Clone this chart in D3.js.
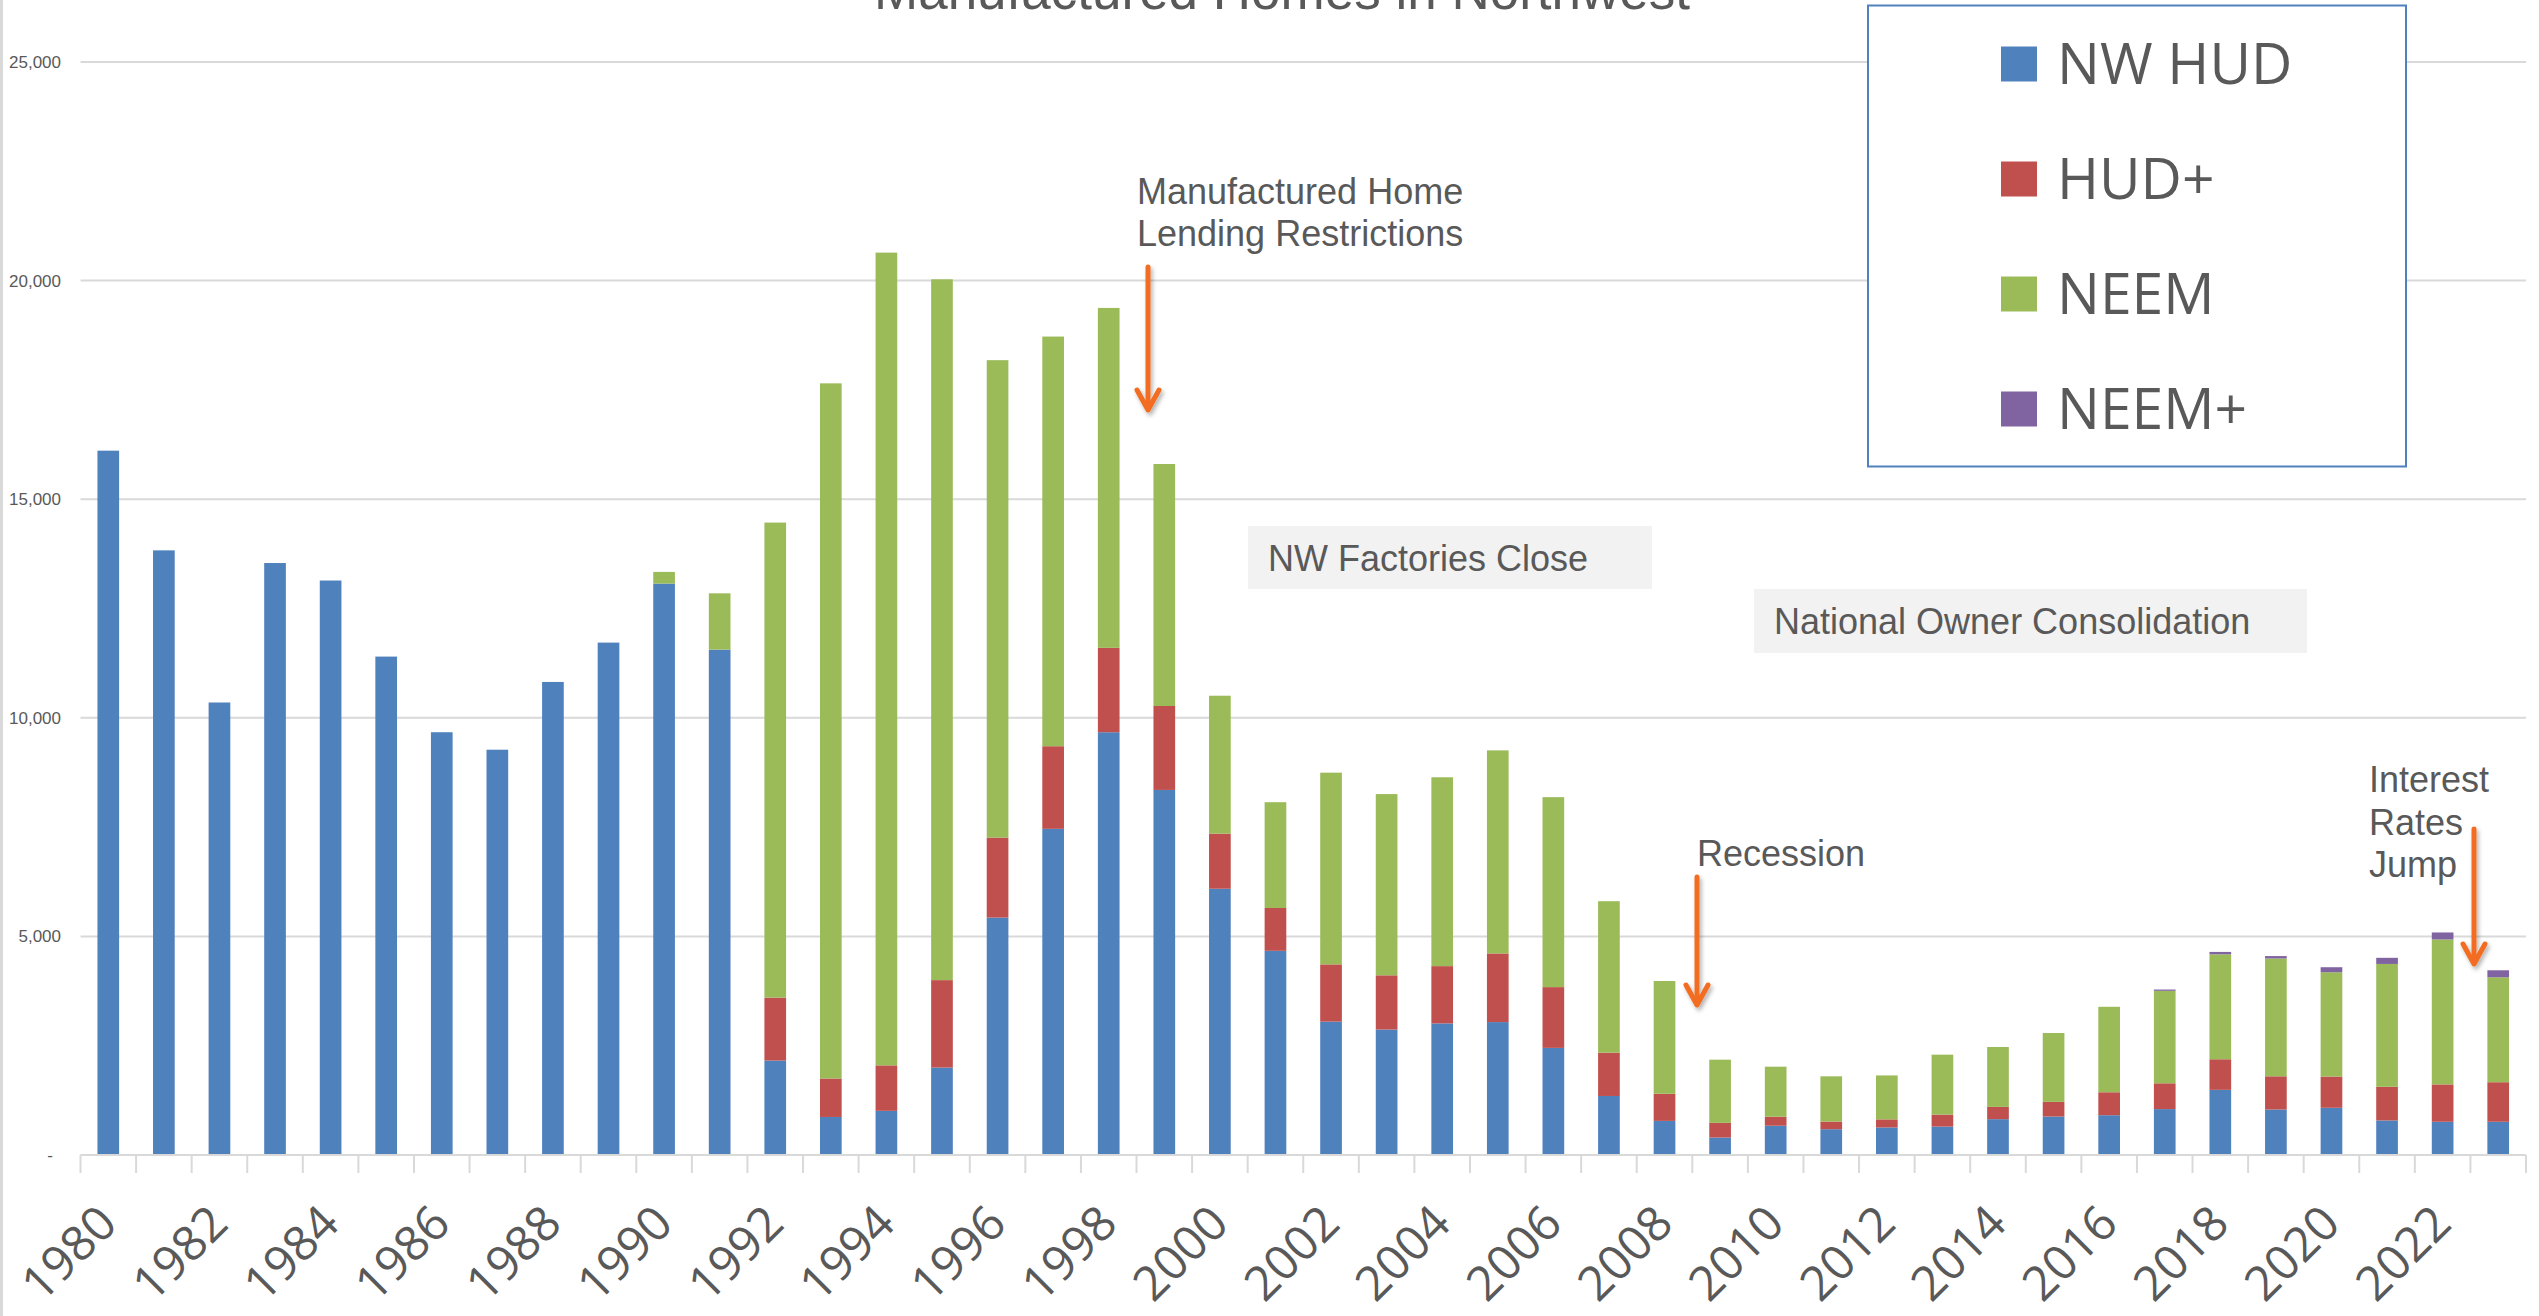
<!DOCTYPE html>
<html>
<head>
<meta charset="utf-8">
<script src="https://cdn.jsdelivr.net/npm/d3@7"></script>
<style>
  body { margin: 0; background: #fff; }
  svg { display: block; }
</style>
</head>
<body>
<svg width="2539" height="1316"></svg>
<script>
// Chart data: one value per year and series (segment values, not cumulative)
const years = d3.range(1980, 2024);
const seriesNames = ["NW HUD", "HUD+", "NEEM", "NEEM+"];

const nwHud = [16110, 13830, 10350, 13540, 13140, 11400, 9670, 9270, 10820, 11720,
    13070, 11560, 2160, 870, 1010, 2000, 5430, 7460, 9670, 8350,
    6090, 4670, 3050, 2870, 3010, 3040, 2450, 1350, 780, 400,
    670, 590, 630, 650, 820, 880, 910, 1050, 1490, 1040,
    1080, 790, 760, 760];
const hudPlus = [0, 0, 0, 0, 0, 0, 0, 0, 0, 0,
    0, 0, 1440, 880, 1040, 2000, 1830, 1890, 1930, 1920,
    1260, 980, 1310, 1240, 1310, 1570, 1390, 990, 620, 335,
    205, 175, 185, 275, 280, 335, 525, 590, 700, 760,
    715, 770, 855, 905];
const neem = [0, 0, 0, 0, 0, 0, 0, 0, 0, 0,
    267, 1287, 10865, 15900, 18590, 16030, 10920, 9370, 7775, 5535,
    3155, 2420, 4385, 4145, 4320, 4645, 4345, 3465, 2580, 1445,
    1145, 1035, 1005, 1370, 1370, 1575, 1955, 2115, 2400, 2695,
    2385, 2810, 3315, 2400];
const neemPlus = [0, 0, 0, 0, 0, 0, 0, 0, 0, 0,
    0, 0, 0, 0, 0, 0, 0, 0, 0, 0,
    0, 0, 0, 0, 0, 0, 0, 0, 0, 0,
    0, 0, 0, 0, 0, 0, 0, 30, 55, 55,
    115, 140, 160, 160];

const yTicks = [0, 5000, 10000, 15000, 20000, 25000];
const xLabelYears = years.filter(y => y % 2 === 0);

const colors = ["#4F81BD", "#C0504D", "#9BBB59", "#8064A2"];

// Build rows for d3.stack
const rows = years.map((yr, i) => ({
    year: yr,
    "NW HUD": nwHud[i],
    "HUD+": hudPlus[i],
    "NEEM": neem[i],
    "NEEM+": neemPlus[i]
}));

const svg = d3.select("svg");
const textGray = "#595959";
const gridGray = "#D9D9D9";

// Scales
const x = d3.scaleBand()
    .domain(years)
    .range([80.5, 2526])
    .paddingInner(0.61)
    .paddingOuter(0.305);

const y = d3.scaleLinear()
    .domain([0, 25000])
    .range([1155, 62]);

const color = d3.scaleOrdinal().domain(seriesNames).range(colors);

// Drop shadow for the arrows
const defs = svg.append("defs");
const shadow = defs.append("filter").attr("id", "shadow")
    .attr("x", "-50%").attr("y", "-20%").attr("width", "200%").attr("height", "140%");
shadow.append("feDropShadow")
    .attr("dx", 2).attr("dy", 3).attr("stdDeviation", 2)
    .attr("flood-color", "#000").attr("flood-opacity", 0.3);

// Left border of the chart area
svg.append("line")
    .attr("x1", 1.5).attr("x2", 1.5)
    .attr("y1", 0).attr("y2", 1316)
    .attr("stroke", gridGray).attr("stroke-width", 3);

// Title (mostly cut off at the top, as in the original)
svg.append("text")
    .attr("x", 1282).attr("y", 9)
    .attr("text-anchor", "middle")
    .attr("font-family", "Liberation Sans, Arial, sans-serif")
    .attr("font-size", 53)
    .attr("fill", textGray)
    .text("Manufactured Homes in Northwest");

// Gridlines
svg.append("g")
    .selectAll("line")
    .data(yTicks.filter(d => d > 0))
    .join("line")
    .attr("x1", 80.5).attr("x2", 2526)
    .attr("y1", d => y(d)).attr("y2", d => y(d))
    .attr("stroke", gridGray).attr("stroke-width", 2);

// Y axis labels
const yAxis = d3.axisLeft(y)
    .tickValues(yTicks)
    .tickSize(0)
    .tickPadding(0)
    .tickFormat(d => d === 0 ? "-" : d3.format(",")(d));

svg.append("g")
    .attr("transform", "translate(61,0)")
    .call(yAxis)
    .call(g => g.select(".domain").remove())
    .call(g => g.selectAll("text")
        .attr("font-family", "Liberation Sans, Arial, sans-serif")
        .attr("font-size", 17)
        .attr("fill", textGray)
        .attr("dx", d => d === 0 ? -8 : 0));

// Stacked bars
const stacked = d3.stack().keys(seriesNames)(rows);

svg.append("g")
    .selectAll("g")
    .data(stacked)
    .join("g")
    .attr("fill", d => color(d.key))
    .selectAll("rect")
    .data(d => d.filter(s => s[1] - s[0] > 0))
    .join("rect")
    .attr("x", d => x(d.data.year))
    .attr("width", x.bandwidth())
    .attr("y", d => y(d[1]))
    .attr("height", d => y(d[0]) - y(d[1]));

// X axis baseline and category-boundary ticks
const step = x.step();
const firstEdge = x(years[0]) + x.bandwidth() / 2 - step / 2;
const edges = d3.range(years.length + 1).map(i => firstEdge + i * step);

svg.append("line")
    .attr("x1", 80.5).attr("x2", 2526)
    .attr("y1", y(0)).attr("y2", y(0))
    .attr("stroke", gridGray).attr("stroke-width", 2);

svg.append("g")
    .selectAll("line")
    .data(edges)
    .join("line")
    .attr("x1", d => d).attr("x2", d => d)
    .attr("y1", y(0)).attr("y2", y(0) + 18)
    .attr("stroke", gridGray).attr("stroke-width", 2);

// X labels, every other year, rotated
svg.append("g")
    .selectAll("text")
    .data(xLabelYears)
    .join("text")
    .attr("transform", d => `translate(${x(d) + x.bandwidth() / 2 + 11},1226) rotate(-45)`)
    .attr("text-anchor", "end")
    .attr("font-family", "Open Sans, sans-serif")
    .attr("font-size", 48)
    .attr("fill", textGray)
    .text(d => d);

// Legend
const legend = svg.append("g");
legend.append("rect")
    .attr("x", 1868).attr("y", 5.5)
    .attr("width", 538).attr("height", 461)
    .attr("fill", "#fff")
    .attr("stroke", "#4F81BD").attr("stroke-width", 2);

const legendItems = legend.selectAll("g")
    .data(seriesNames)
    .join("g")
    .attr("transform", (d, i) => `translate(2001,${64 + i * 115})`);

legendItems.append("rect")
    .attr("x", 0).attr("y", -17.5)
    .attr("width", 36).attr("height", 35)
    .attr("fill", d => color(d));

legendItems.append("text")
    .attr("x", 56).attr("y", 20)
    .attr("font-family", "Open Sans, sans-serif")
    .attr("font-size", 57)
    .attr("fill", textGray)
    .text(d => d);

// Annotations
const annoFont = "Liberation Sans, Arial, sans-serif";

function addLines(lines, x0, y0, lineHeight) {
    const t = svg.append("text")
        .attr("font-family", annoFont)
        .attr("font-size", 36)
        .attr("fill", textGray);
    lines.forEach((s, i) => {
        t.append("tspan").attr("x", x0).attr("y", y0 + i * lineHeight).text(s);
    });
}

function addArrow(ax, y1, y2) {
    const g = svg.append("g")
        .attr("filter", "url(#shadow)")
        .attr("stroke", "#F26D21")
        .attr("stroke-width", 5)
        .attr("stroke-linecap", "round")
        .attr("stroke-linejoin", "round")
        .attr("fill", "none");
    g.append("line")
        .attr("x1", ax).attr("x2", ax)
        .attr("y1", y1).attr("y2", y2 - 2);
    g.append("polyline")
        .attr("points", `${ax - 11},${y2 - 20} ${ax},${y2} ${ax + 11},${y2 - 20}`);
}

function addBox(label, bx, by, bw, bh) {
    svg.append("rect")
        .attr("x", bx).attr("y", by)
        .attr("width", bw).attr("height", bh)
        .attr("fill", "#F2F2F2");
    svg.append("text")
        .attr("x", bx + 20).attr("y", by + bh / 2 + 13)
        .attr("font-family", annoFont)
        .attr("font-size", 36)
        .attr("fill", textGray)
        .text(label);
}

addLines(["Manufactured Home", "Lending Restrictions"], 1137, 204, 42);
addArrow(1148, 267, 410);

addBox("NW Factories Close", 1248, 526, 404, 63);
addBox("National Owner Consolidation", 1754, 589, 553, 64);

addLines(["Recession"], 1697, 866, 42);
addArrow(1697, 877, 1005);

addLines(["Interest", "Rates", "Jump"], 2369, 792, 42.5);
addArrow(2474, 829, 964);
</script>
</body>
</html>
